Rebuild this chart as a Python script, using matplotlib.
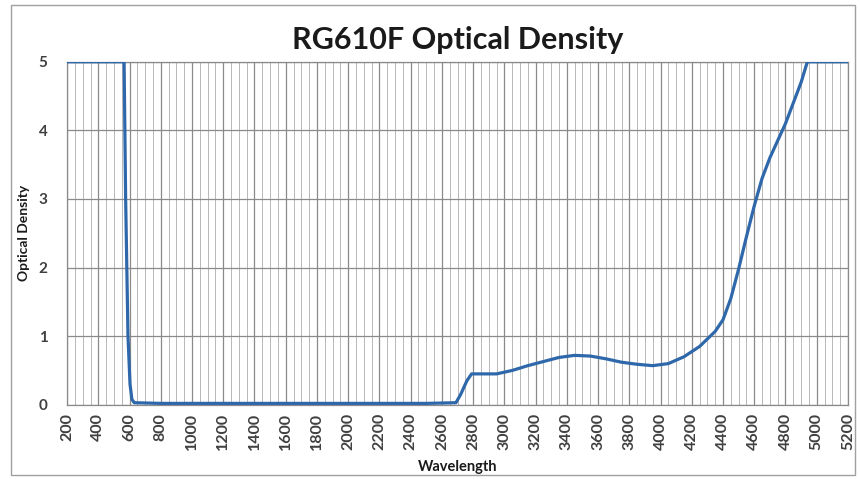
import numpy as np
import matplotlib
matplotlib.use("Agg")
import matplotlib.pyplot as plt
from matplotlib.patches import Rectangle
from matplotlib.ticker import MultipleLocator

plt.rcParams['font.family'] = ['Lato', 'DejaVu Sans']

# wavelength / optical density
wavelength = [200, 565, 575, 590, 603, 615, 630, 800, 1500, 2000, 2500, 2690,
              2720, 2760, 2790, 2850, 2950, 3050, 3150, 3250, 3350, 3450, 3550,
              3650, 3750, 3850, 3950, 4050, 4150, 4250, 4350, 4400, 4450, 4500,
              4550, 4600, 4650, 4700, 4750, 4800, 4850, 4900, 4940, 5200]
density = [5.0, 5.0, 3.0, 1.0, 0.3, 0.08, 0.03, 0.02, 0.02, 0.02, 0.02, 0.03,
           0.15, 0.35, 0.45, 0.45, 0.45, 0.5, 0.57, 0.63, 0.69, 0.72, 0.71,
           0.67, 0.62, 0.59, 0.57, 0.60, 0.70, 0.85, 1.07, 1.24, 1.55, 1.98,
           2.45, 2.9, 3.3, 3.6, 3.85, 4.1, 4.4, 4.7, 5.0, 5.0]
x_ticks = list(range(200, 5201, 200))
y_ticks = [0, 1, 2, 3, 4, 5]

fig = plt.figure(figsize=(8.6, 4.79), dpi=100)
ax = fig.add_axes([0.078, 0.155, 0.908, 0.716])

ax.plot(wavelength, density, color='#2f68aa', lw=2.3, solid_joinstyle='round', zorder=3)

ax.set_xlim(200, 5200)
ax.set_ylim(0, 5)
ax.set_xticks(x_ticks)
ax.set_xticklabels([str(v) for v in x_ticks], rotation=90, fontsize=11.5,
                   fontweight='bold', color='#404040')
ax.set_yticks(y_ticks)
ax.set_yticklabels([str(v) for v in y_ticks], fontsize=11, fontweight='bold',
                   color='#404040')
ax.xaxis.set_minor_locator(MultipleLocator(50))
ax.tick_params(which='both', length=0)
ax.tick_params(axis='y', pad=14)
ax.tick_params(axis='x', pad=6)

ax.grid(which='major', color='#8a8a8a', lw=0.9)
ax.grid(which='minor', axis='x', color='#b8b8b8', lw=0.7)
ax.set_axisbelow(True)
for s in ax.spines.values():
    s.set_color('#8a8a8a')
    s.set_linewidth(0.9)

ax.set_title('RG610F Optical Density', fontsize=22, fontweight='bold',
             color='#1a1a1a', pad=9)
ax.set_xlabel('Wavelength', fontsize=10.5, fontweight='bold', color='#1a1a1a')
ax.set_ylabel('Optical Density', fontsize=10, fontweight='bold', color='#1a1a1a')
ax.yaxis.set_label_coords(-0.048, 0.5)
ax.xaxis.set_label_coords(0.5, -0.16)

fig.patches.append(Rectangle((11 / 860, 4 / 479), 844 / 860, 470 / 479,
                             transform=fig.transFigure, fill=False,
                             edgecolor='#a0a0a0', lw=1.0))

fig.savefig('out.png', dpi=100)
